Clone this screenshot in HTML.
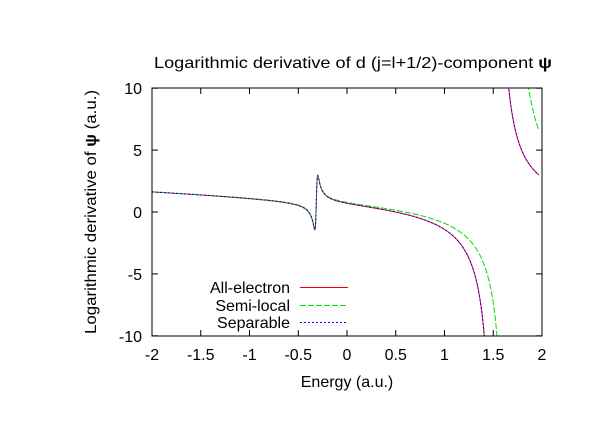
<!DOCTYPE html>
<html><head><style>
body{margin:0;background:#fff}
svg{display:block;font-family:"Liberation Sans",sans-serif;font-size:16px}
</style></head><body>
<svg id="s" width="612" height="428" xmlns="http://www.w3.org/2000/svg">
<defs><clipPath id="c"><rect x="152" y="88" width="390" height="248"/></clipPath></defs>
<text x="353" y="68" text-anchor="middle" textLength="398" lengthAdjust="spacingAndGlyphs">Logarithmic derivative of d (j=l+1/2)-component <tspan font-weight="bold">ψ</tspan></text>
<text transform="translate(96,212) rotate(-90)" text-anchor="middle" textLength="244" lengthAdjust="spacingAndGlyphs">Logarithmic derivative of <tspan font-weight="bold">ψ</tspan> (a.u.)</text>
<text x="347" y="387" text-anchor="middle">Energy (a.u.)</text>
<g id="ax"></g>
<g clip-path="url(#c)" id="cv"></g>
<rect x="152" y="88" width="390" height="248" fill="none" stroke="#000" stroke-width="1"/>
<g text-anchor="end">
<text x="290" y="293">All-electron</text>
<text x="290" y="311">Semi-local</text>
<text x="290" y="328">Separable</text>
</g>
<line x1="300" y1="287.5" x2="348" y2="287.5" stroke="#f00"/>
<line x1="300" y1="305.5" x2="348" y2="305.5" stroke="#0d0" stroke-dasharray="6,2"/>
<line x1="300" y1="322.5" x2="348" y2="322.5" stroke="#00f" stroke-dasharray="2,2"/>
</svg>
<script>
const X=v=>152+(v+2)*97.5, Y=v=>212-v*12.38;
let ax='';
for(let i=0;i<=8;i++){let v=-2+i*0.5,x=X(v);
ax+=`<line x1="${x}" y1="336" x2="${x}" y2="330" stroke="#000"/><line x1="${x}" y1="88" x2="${x}" y2="94" stroke="#000"/>`;
ax+=`<text x="${x}" y="360" text-anchor="middle">${v}</text>`;}
for(let v=-10;v<=10;v+=5){let y=Y(v);
ax+=`<line x1="152" y1="${y}" x2="158" y2="${y}" stroke="#000"/><line x1="542" y1="${y}" x2="536" y2="${y}" stroke="#000"/>`;
ax+=`<text x="142" y="${y+6}" text-anchor="end">${v}</text>`;}
document.getElementById('ax').innerHTML=ax;
function f(x,P,r2){let d=x+0.315;let res=0.066*d/(d*d+0.000225);
 if(x>P) return r2/(x-P);
 return 1.35-0.34*x-1.3/(P-x)+res;}
function path(P,r2){let s='',seg=[];for(let x=-2;x<=1.97;x+=0.002){
 if(Math.abs(x-P)<0.04){if(seg.length)s+='M'+seg.join('L');seg=[];continue;}
 let v=f(x,P,r2);v=Math.max(-14,Math.min(14,v));seg.push(X(x).toFixed(2)+','+Y(v).toFixed(2));}
 if(seg.length)s+='M'+seg.join('L');return s;}
document.getElementById('cv').innerHTML=
`<path d="${path(1.527,1.32)}" fill="none" stroke="#f00"/>`+
`<path d="${path(1.658,2.05)}" fill="none" stroke="#0d0" stroke-dasharray="6,2"/>`+
`<path d="${path(1.527,1.32)}" fill="none" stroke="#00f" stroke-dasharray="2,2"/>`;
</script>
</body></html>
